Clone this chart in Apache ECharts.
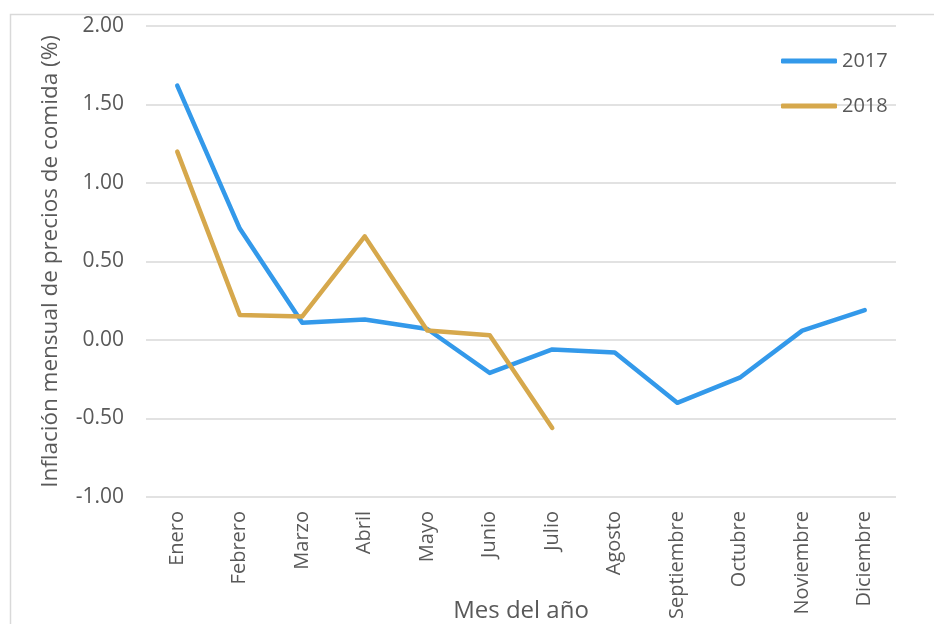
<!DOCTYPE html>
<html>
<head>
<meta charset="utf-8">
<script src="https://cdn.jsdelivr.net/npm/echarts@6/dist/echarts.min.js"></script>
<style>html,body{margin:0;padding:0;background:#fff}#c{width:934px;height:624px}</style>
</head>
<body>
<div id="c"></div>
<script>
const categories = ['Enero','Febrero','Marzo','Abril','Mayo','Junio','Julio','Agosto','Septiembre','Octubre','Noviembre','Diciembre'];
const values2017 = [1.62, 0.71, 0.11, 0.13, 0.07, -0.21, -0.06, -0.08, -0.40, -0.24, 0.06, 0.19];
const values2018 = [1.20, 0.16, 0.15, 0.66, 0.06, 0.03, -0.56];
const seriesNames = ['2017', '2018'];

const font = 'Open Sans';
const chart = echarts.init(document.getElementById('c'));
chart.setOption({
  animation: false,
  textStyle: {fontFamily: font},
  graphic: [{
    type: 'rect', left: 8, top: 12, silent: true,
    shape: {width: 1000, height: 1000},
    style: {fill: 'none', stroke: '#d9d9d9', lineWidth: 1.5}
  }],
  grid: {left: 146, right: 38, top: 26, bottom: 127, containLabel: false, outerBoundsMode: 'none'},
  legend: {
    orient: 'vertical', left: 776, top: 46, itemGap: 25,
    itemWidth: 56, itemHeight: 5, icon: 'roundRect',
    textStyle: {fontFamily: font, fontSize: 20, color: '#595959', padding: [0,0,0,0]},
    data: seriesNames
  },
  xAxis: {
    type: 'category', data: categories, boundaryGap: true,
    name: 'Mes del año', nameLocation: 'middle', nameGap: 102, nameMoveOverlap: false,
    nameTextStyle: {fontFamily: font, fontSize: 24, color: '#595959'},
    axisLine: {show: false}, axisTick: {show: false},
    axisLabel: {rotate: 90, margin: 14, fontSize: 20, color: '#595959', fontFamily: font}
  },
  yAxis: {
    type: 'value', min: -1, max: 2, interval: 0.5,
    name: 'Inflación mensual de precios de comida (%)', nameLocation: 'middle', nameGap: 84, nameMoveOverlap: false,
    nameTextStyle: {fontFamily: font, fontSize: 22.5, color: '#595959'},
    axisLine: {show: false}, axisTick: {show: false},
    axisLabel: {margin: 22, fontSize: 21, color: '#595959', fontFamily: font, formatter: v => v.toFixed(2)},
    splitLine: {lineStyle: {color: '#d9d9d9', width: 1.5}}
  },
  series: [
    {name: seriesNames[0], type: 'line', data: values2017, symbol: 'none', lineStyle: {width: 4.5, color: '#3399EA', cap: 'round', join: 'round'}, itemStyle: {color: '#3399EA'}},
    {name: seriesNames[1], type: 'line', data: values2018, symbol: 'none', lineStyle: {width: 4.5, color: '#D6A84C', cap: 'round', join: 'round'}, itemStyle: {color: '#D6A84C'}}
  ]
});
</script>
</body>
</html>
